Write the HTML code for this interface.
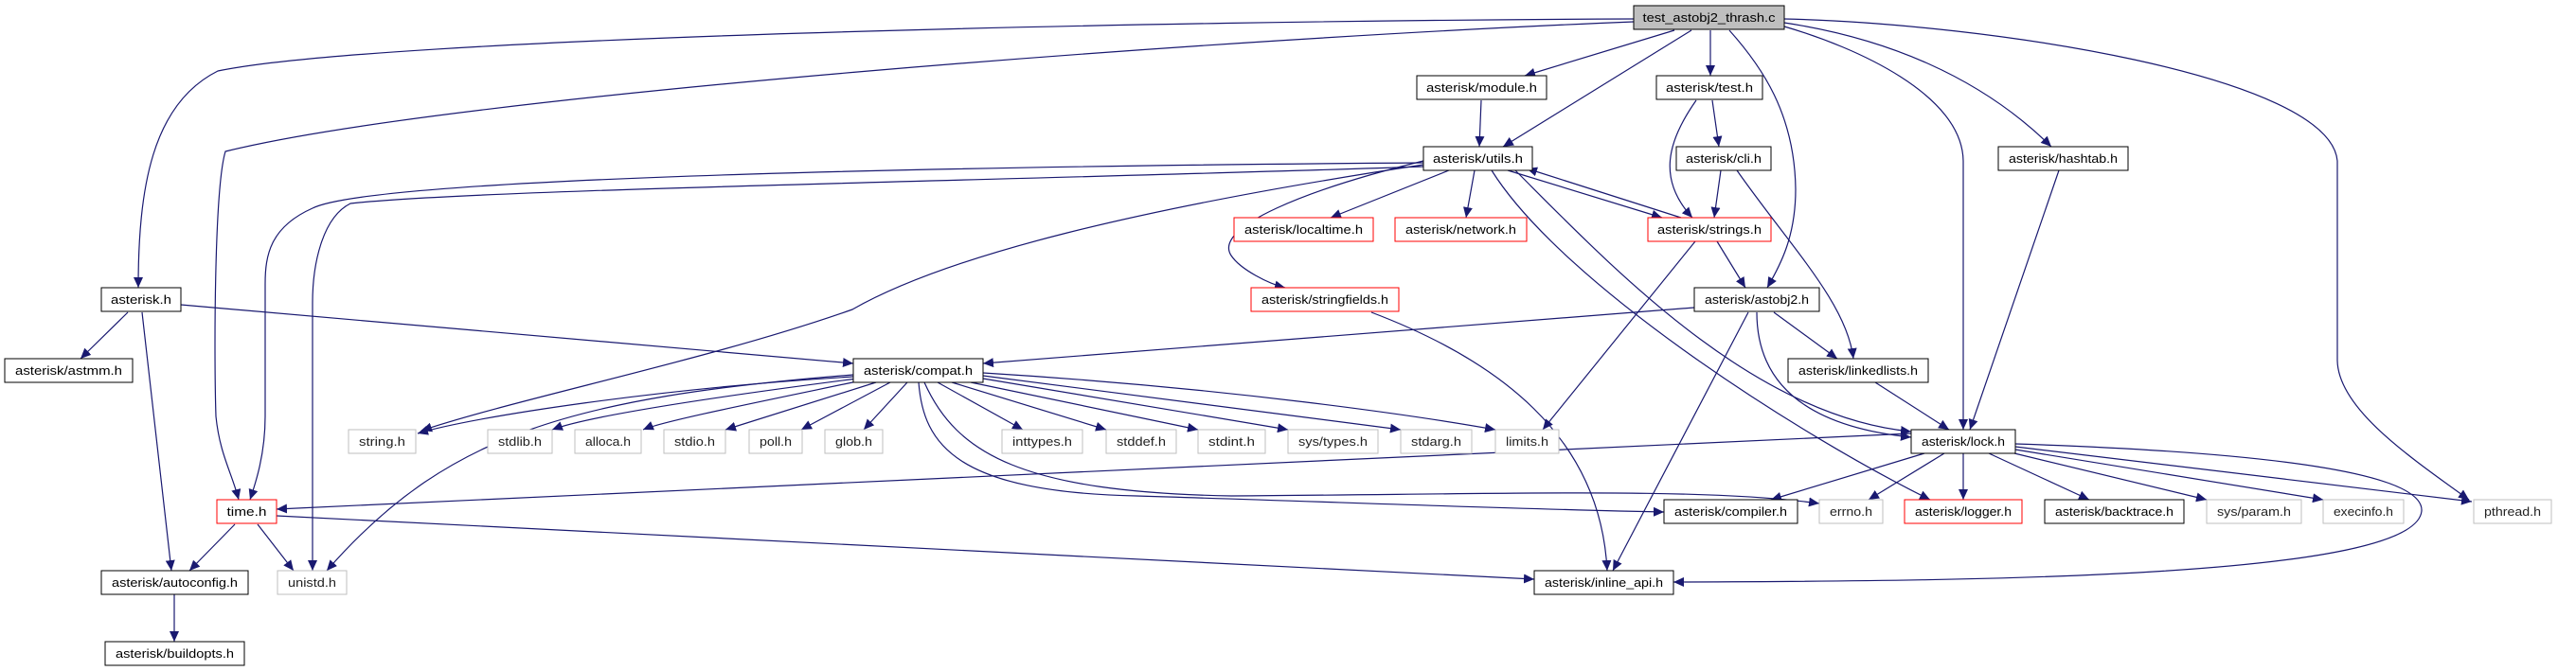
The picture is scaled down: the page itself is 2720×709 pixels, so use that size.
<!DOCTYPE html>
<html><head><meta charset="utf-8"><style>
html,body{margin:0;padding:0;background:#fff;}
svg{display:block;}
text{font-family:"Liberation Sans",sans-serif;font-size:13px;}
</style></head><body>
<svg width="2720" height="709" viewBox="0 0 2720 709" xmlns="http://www.w3.org/2000/svg">
<defs>
<marker id="a" markerUnits="userSpaceOnUse" markerWidth="12" markerHeight="10" refX="11" refY="5" orient="auto">
<path d="M0,0 L11,5 L0,10 z" fill="#191970"/>
</marker>
</defs>
<g fill="none" stroke="#191970" stroke-width="1.2" marker-end="url(#a)">
<!-- main -->
<path d="M1725,20 C1200,22 400,40 230,75 C160,110 146,200 146,304"/>
<path d="M1725,23 C1300,40 480,100 238,160 C226,200 226,380 228,440 C232,480 245,500 252,528"/>
<path d="M1768,32 L1610,80"/>
<path d="M1786,32 L1587,155"/>
<path d="M1806,32 L1806,80"/>
<path d="M1826,32 C1860,70 1895,120 1896,200 C1896,250 1880,280 1866,304"/>
<path d="M1884,28 C1960,50 2072,100 2073,170 L2073,454"/>
<path d="M1884,24 C1990,40 2090,80 2166,155"/>
<path d="M1884,20 C2100,25 2460,80 2468,170 L2468,380 C2468,430 2540,480 2607,528"/>
<!-- module, test, cli, hashtab -->
<path d="M1564,106 L1562,155"/>
<path d="M1791,106 C1760,150 1750,190 1787,230"/>
<path d="M1808,106 L1815,155"/>
<path d="M1817,180 L1810,230"/>
<path d="M1834,180 C1890,260 1950,320 1957,379"/>
<path d="M2174,180 L2080,454"/>
<!-- utils -->
<path d="M1592,180 L1755,230"/>
<path d="M1775,230 L1612,178"/>
<path d="M1530,180 L1405,230"/>
<path d="M1557,180 L1548,230"/>
<path d="M1503,170 C1380,200 1280,240 1300,270 C1310,285 1340,300 1357,304"/>
<path d="M1600,180 C1700,280 1850,440 2018,456"/>
<path d="M1575,180 C1650,300 1900,460 2038,528"/>
<path d="M1503,174 C1200,220 1000,270 900,327 C750,380 550,420 445,455"/>
<path d="M1503,172 C1100,175 400,185 330,220 C285,240 280,270 280,300 L280,440 C280,480 270,510 264,528"/>
<path d="M1503,176 C1100,190 500,200 370,215 C340,230 330,280 330,320 L330,603"/>
<!-- strings, stringfields, astobj2 -->
<path d="M1813,255 L1843,304"/>
<path d="M1790,255 L1629,454"/>
<path d="M1448,330 C1580,380 1690,460 1697,603"/>
<path d="M1873,330 L1940,379"/>
<path d="M1855,330 C1855,400 1900,450 2018,462"/>
<path d="M1846,330 L1703,603"/>
<path d="M1789,325 L1038,384"/>
<!-- asterisk.h -->
<path d="M191,322 L901,384"/>
<path d="M135,330 L85,379"/>
<path d="M150,330 L181,603"/>
<!-- linkedlists -->
<path d="M1980,404 L2058,454"/>
<!-- compat -->
<path d="M901,398 C700,410 500,440 441,458"/>
<path d="M905,400 C750,420 620,440 583,454"/>
<path d="M910,402 C800,425 700,445 679,454"/>
<path d="M925,404 L766,454"/>
<path d="M940,404 L846,454"/>
<path d="M958,404 L912,454"/>
<path d="M990,404 L1080,454"/>
<path d="M1005,404 L1168,454"/>
<path d="M1025,404 L1265,454"/>
<path d="M1038,400 L1360,454"/>
<path d="M1038,397 L1479,454"/>
<path d="M1038,394 C1300,410 1500,440 1579,454"/>
<path d="M901,396 C600,420 470,460 345,603"/>
<path d="M970,404 C975,470 1010,520 1200,524 C1400,530 1600,538 1757,541"/>
<path d="M976,404 C1010,480 1080,520 1300,524 C1600,522 1800,515 1921,532"/>
<!-- lock -->
<path d="M2018,458 L292,538"/>
<path d="M2032,479 L1870,528"/>
<path d="M2053,479 L1973,528"/>
<path d="M2073,479 L2073,528"/>
<path d="M2100,479 L2206,528"/>
<path d="M2127,479 L2330,528"/>
<path d="M2128,475 L2453,528"/>
<path d="M2128,472 L2610,530"/>
<path d="M2128,469 C2400,478 2560,500 2557,540 C2550,610 2100,614 1767,615"/>
<!-- time, autoconfig -->
<path d="M248,554 L200,603"/>
<path d="M272,554 L310,603"/>
<path d="M292,545 L1620,612"/>
<path d="M184,628 L184,678"/>
</g>
<g stroke-width="1">
<!-- black nodes -->
<g fill="#fff" stroke="#000">
<rect x="1496" y="80" width="137" height="25"/>
<rect x="1749" y="80" width="112" height="25"/>
<rect x="1503" y="155" width="115" height="25"/>
<rect x="1770" y="155" width="100" height="25"/>
<rect x="2110" y="155" width="137" height="25"/>
<rect x="107" y="304" width="84" height="25"/>
<rect x="1789" y="304" width="132" height="25"/>
<rect x="5" y="379" width="135" height="25"/>
<rect x="901" y="379" width="137" height="25"/>
<rect x="1888" y="379" width="148" height="25"/>
<rect x="2018" y="454" width="110" height="25"/>
<rect x="1757" y="528" width="141" height="25"/>
<rect x="2159" y="528" width="147" height="25"/>
<rect x="107" y="603" width="155" height="25"/>
<rect x="1620" y="603" width="147" height="25"/>
<rect x="111" y="678" width="147" height="25"/>
</g>
<rect x="1725" y="6" width="159" height="25" fill="#bfbfbf" stroke="#000"/>
<g fill="#fff" stroke="#ff0000">
<rect x="1303" y="230" width="147" height="25"/>
<rect x="1473" y="230" width="139" height="25"/>
<rect x="1740" y="230" width="130" height="25"/>
<rect x="1321" y="304" width="156" height="25"/>
<rect x="229" y="528" width="63" height="25"/>
<rect x="2011" y="528" width="124" height="25"/>
</g>
<g fill="#fff" stroke="#bfbfbf">
<rect x="368" y="454" width="71" height="25"/>
<rect x="515" y="454" width="68" height="25"/>
<rect x="607" y="454" width="70" height="25"/>
<rect x="701" y="454" width="65" height="25"/>
<rect x="791" y="454" width="56" height="25"/>
<rect x="871" y="454" width="61" height="25"/>
<rect x="1058" y="454" width="85" height="25"/>
<rect x="1168" y="454" width="74" height="25"/>
<rect x="1265" y="454" width="71" height="25"/>
<rect x="1360" y="454" width="95" height="25"/>
<rect x="1479" y="454" width="75" height="25"/>
<rect x="1579" y="454" width="67" height="25"/>
<rect x="1921" y="528" width="67" height="25"/>
<rect x="2330" y="528" width="100" height="25"/>
<rect x="2453" y="528" width="85" height="25"/>
<rect x="2612" y="528" width="82" height="25"/>
<rect x="293" y="603" width="73" height="25"/>
</g>
</g>
<g fill="#000" text-anchor="middle" lengthAdjust="spacingAndGlyphs">
<text x="1804.5" y="23" textLength="140" lengthAdjust="spacingAndGlyphs">test_astobj2_thrash.c</text>
<text x="1564.5" y="97" textLength="117" lengthAdjust="spacingAndGlyphs">asterisk/module.h</text>
<text x="1805" y="97" textLength="92" lengthAdjust="spacingAndGlyphs">asterisk/test.h</text>
<text x="1560.5" y="172" textLength="95" lengthAdjust="spacingAndGlyphs">asterisk/utils.h</text>
<text x="1820" y="172" textLength="80" lengthAdjust="spacingAndGlyphs">asterisk/cli.h</text>
<text x="2178.5" y="172" textLength="115" lengthAdjust="spacingAndGlyphs">asterisk/hashtab.h</text>
<text x="1376.5" y="247" textLength="125" lengthAdjust="spacingAndGlyphs">asterisk/localtime.h</text>
<text x="1542.5" y="247" textLength="117" lengthAdjust="spacingAndGlyphs">asterisk/network.h</text>
<text x="1805" y="247" textLength="110" lengthAdjust="spacingAndGlyphs">asterisk/strings.h</text>
<text x="149" y="321" textLength="64" lengthAdjust="spacingAndGlyphs">asterisk.h</text>
<text x="1399" y="321" textLength="134" lengthAdjust="spacingAndGlyphs">asterisk/stringfields.h</text>
<text x="1855" y="321" textLength="110" lengthAdjust="spacingAndGlyphs">asterisk/astobj2.h</text>
<text x="72.5" y="396" textLength="113" lengthAdjust="spacingAndGlyphs">asterisk/astmm.h</text>
<text x="969.5" y="396" textLength="115" lengthAdjust="spacingAndGlyphs">asterisk/compat.h</text>
<text x="1962" y="396" textLength="126" lengthAdjust="spacingAndGlyphs">asterisk/linkedlists.h</text>
<text x="2073" y="471" textLength="88" lengthAdjust="spacingAndGlyphs">asterisk/lock.h</text>
<text x="1827.5" y="545" textLength="119" lengthAdjust="spacingAndGlyphs">asterisk/compiler.h</text>
<text x="2232.5" y="545" textLength="125" lengthAdjust="spacingAndGlyphs">asterisk/backtrace.h</text>
<text x="2073" y="545" textLength="102" lengthAdjust="spacingAndGlyphs">asterisk/logger.h</text>
<text x="260.5" y="545" textLength="42" lengthAdjust="spacingAndGlyphs">time.h</text>
<text x="184.5" y="620" textLength="133" lengthAdjust="spacingAndGlyphs">asterisk/autoconfig.h</text>
<text x="1693.5" y="620" textLength="125" lengthAdjust="spacingAndGlyphs">asterisk/inline_api.h</text>
<text x="184.5" y="695" textLength="125" lengthAdjust="spacingAndGlyphs">asterisk/buildopts.h</text>
</g>
<g fill="#222" text-anchor="middle">
<text x="403.5" y="471" textLength="49" lengthAdjust="spacingAndGlyphs">string.h</text>
<text x="549" y="471" textLength="46" lengthAdjust="spacingAndGlyphs">stdlib.h</text>
<text x="642" y="471" textLength="48" lengthAdjust="spacingAndGlyphs">alloca.h</text>
<text x="733.5" y="471" textLength="43" lengthAdjust="spacingAndGlyphs">stdio.h</text>
<text x="819" y="471" textLength="34" lengthAdjust="spacingAndGlyphs">poll.h</text>
<text x="901.5" y="471" textLength="39" lengthAdjust="spacingAndGlyphs">glob.h</text>
<text x="1100.5" y="471" textLength="63" lengthAdjust="spacingAndGlyphs">inttypes.h</text>
<text x="1205" y="471" textLength="52" lengthAdjust="spacingAndGlyphs">stddef.h</text>
<text x="1300.5" y="471" textLength="49" lengthAdjust="spacingAndGlyphs">stdint.h</text>
<text x="1407.5" y="471" textLength="73" lengthAdjust="spacingAndGlyphs">sys/types.h</text>
<text x="1516.5" y="471" textLength="53" lengthAdjust="spacingAndGlyphs">stdarg.h</text>
<text x="1612.5" y="471" textLength="45" lengthAdjust="spacingAndGlyphs">limits.h</text>
<text x="1954.5" y="545" textLength="45" lengthAdjust="spacingAndGlyphs">errno.h</text>
<text x="2380" y="545" textLength="78" lengthAdjust="spacingAndGlyphs">sys/param.h</text>
<text x="2495.5" y="545" textLength="63" lengthAdjust="spacingAndGlyphs">execinfo.h</text>
<text x="2653" y="545" textLength="60" lengthAdjust="spacingAndGlyphs">pthread.h</text>
<text x="329.5" y="620" textLength="51" lengthAdjust="spacingAndGlyphs">unistd.h</text>
</g>
</svg>
</body></html>
